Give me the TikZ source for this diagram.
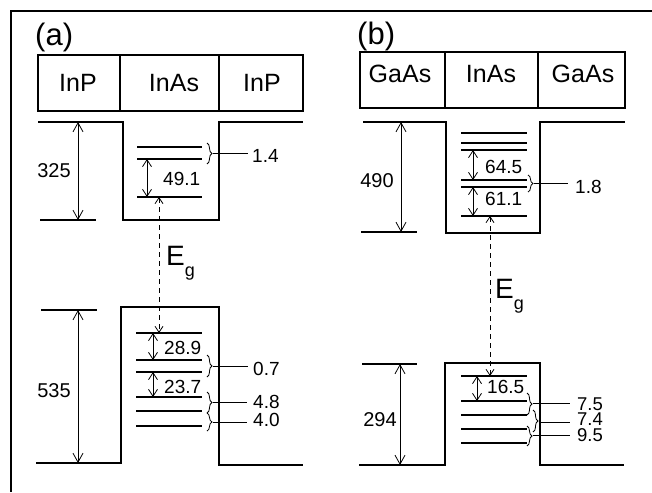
\documentclass[tikz,border=0pt]{standalone}
\usepackage{fontspec}
\setmainfont{Liberation Sans}
\usetikzlibrary{arrows.meta,decorations.pathreplacing}
\newcommand\myfs[1]{\fontsize{#1}{#1}\selectfont}
\begin{document}
\begin{tikzpicture}[x=1pt,y=-1pt,
  band/.style={line width=1.9pt},
  lev/.style={line width=1.9pt},
  dimarrow/.style={line width=0.8pt,{Straight Barb[length=9pt,width=10pt]}-{Straight Barb[length=9pt,width=10pt]}},
  sdim/.style={line width=0.8pt,{Straight Barb[length=7pt,width=9pt]}-{Straight Barb[length=7pt,width=9pt]}},
  egarrow/.style={line width=0.8pt,dash pattern=on 5pt off 4pt,{Straight Barb[length=6pt,width=8pt]}-{Straight Barb[length=6pt,width=8pt]}},
  brc/.style={decorate,decoration={brace,amplitude=5pt},line width=0.8pt},
  lead/.style={line width=0.8pt},
  num/.style={inner sep=0pt,font=\myfs{19}},
  snum/.style={inner sep=0pt,font=\myfs{18.5}},
  big/.style={inner sep=0pt,font=\myfs{20}},
  cell/.style={inner sep=0pt,font=\myfs{25}},
  panel/.style={inner sep=0pt,font=\myfs{31}},
  eglabel/.style={inner sep=0pt,font=\myfs{28}},
]
\useasboundingbox (0,0) rectangle (652,492);
% frame
\draw[line width=2pt] (652,11) -- (11,11) -- (11,492);

% ================= (a) =================
\node[panel,anchor=base west] (pa) at (35,46) {(a)};
\draw[band] (38,55) rectangle (303,111);
\draw[band] (120,55) -- (120,111);
\draw[band] (219,55) -- (219,111);
\node[cell,anchor=base] (a1) at (78,92) {InP};
\node[cell,anchor=base] (a2) at (174,92) {InAs};
\node[cell,anchor=base] (a3) at (262,92) {InP};

% conduction band (a)
\draw[band] (38,122) -- (123,122) -- (123,220) -- (219,220) -- (219,122) -- (303,122);
\draw[band] (40,220) -- (96,220);
\coordinate (ca1) at (78,122); \coordinate (ca2) at (78,220);
\draw[dimarrow] (ca1) -- (ca2);
\node[big,anchor=base] (n325) at (54,177) {325};
\foreach \y in {147,159,197} \draw[lev] (137,\y) -- (202,\y);
\draw[brc] (207,143) -- (207,164);
\coordinate (b14) at (213,153); \coordinate (b14e) at (248,153);
\draw[lead] (b14) -- (b14e);
\node[num,anchor=base west] (l14) at (252,162) {1.4};
\coordinate (e491a) at (147,159); \coordinate (e491b) at (147,197);
\draw[sdim] (e491a) -- (e491b);
\node[num,anchor=base west] (l491) at (163,185) {49.1};

% Eg (a)
\coordinate (ega1) at (159,197); \coordinate (ega2) at (159,333);
\draw[egarrow] (ega1) -- (ega2);
\node[eglabel,anchor=base west] (ega) at (166,265) {E\raisebox{-11pt}{\myfs{18}g}};

% valence band (a)
\draw[band] (41,310) -- (97,310);
\draw[band] (36,463) -- (121,463) -- (121,307) -- (219,307) -- (219,465) -- (303,465);
\coordinate (va1) at (78,310); \coordinate (va2) at (78,463);
\draw[dimarrow] (va1) -- (va2);
\node[big,anchor=base] (n535) at (54,397) {535};
\foreach \y in {333,360,372,397,411,426} \draw[lev] (136,\y) -- (202,\y);
\coordinate (e289a) at (153,333); \coordinate (e289b) at (153,360);
\draw[sdim] (e289a) -- (e289b);
\node[num,anchor=base west] (l289) at (164,354) {28.9};
\draw[brc] (207,355) -- (207,377);
\coordinate (b07) at (213,366); \coordinate (b07e) at (248,366);
\draw[lead] (b07) -- (b07e);
\node[num,anchor=base west] (l07) at (253,375) {0.7};
\coordinate (e237a) at (153,372); \coordinate (e237b) at (153,397);
\draw[sdim] (e237a) -- (e237b);
\node[num,anchor=base west] (l237) at (164,393) {23.7};
\draw[brc] (207,392) -- (207,413);
\coordinate (b48) at (213,402); \coordinate (b48e) at (247,402);
\draw[lead] (b48) -- (b48e);
\node[num,anchor=base west] (l48) at (253,408) {4.8};
\draw[brc] (207,413) -- (207,431);
\coordinate (b40) at (213,422); \coordinate (b40e) at (247,422);
\draw[lead] (b40) -- (b40e);
\node[num,anchor=base west] (l40) at (253,426) {4.0};

% ================= (b) =================
\node[panel,anchor=base west] (pb) at (357,45) {(b)};
\draw[band] (360,52) rectangle (625,108);
\draw[band] (445,52) -- (445,108);
\draw[band] (538,52) -- (538,108);
\node[cell,anchor=base] (b1) at (400,83) {GaAs};
\node[cell,anchor=base] (b2) at (491,83) {InAs};
\node[cell,anchor=base] (b3) at (583,83) {GaAs};

% conduction band (b)
\draw[band] (363,122) -- (446,122) -- (446,233) -- (540,233) -- (540,122) -- (625,122);
\draw[band] (361,232) -- (417,232);
\coordinate (cb1) at (401,122); \coordinate (cb2) at (401,232);
\draw[dimarrow] (cb1) -- (cb2);
\node[big,anchor=base] (n490) at (377,187) {490};
\foreach \y in {133,143,150,180,187,216} \draw[lev] (461,\y) -- (527,\y);
\coordinate (e645a) at (473,150); \coordinate (e645b) at (473,180);
\draw[sdim] (e645a) -- (e645b);
\node[num,anchor=base west] (l645) at (485,173) {64.5};
\draw[brc] (528,175) -- (528,192);
\coordinate (b18) at (534,183); \coordinate (b18e) at (568,183);
\draw[lead] (b18) -- (b18e);
\node[num,anchor=base west] (l18) at (575,193) {1.8};
\coordinate (e611a) at (473,187); \coordinate (e611b) at (473,216);
\draw[sdim] (e611a) -- (e611b);
\node[num,anchor=base west] (l611) at (485,205) {61.1};

% Eg (b)
\coordinate (egb1) at (490,216); \coordinate (egb2) at (490,376);
\draw[egarrow] (egb1) -- (egb2);
\node[eglabel,anchor=base west] (egb) at (495,298) {E\raisebox{-11pt}{\myfs{18}g}};

% valence band (b)
\draw[band] (362,364) -- (417,364);
\draw[band] (359,465) -- (445,465) -- (445,363) -- (540,363) -- (540,465) -- (624,465);
\coordinate (vb1) at (400,364); \coordinate (vb2) at (400,465);
\draw[dimarrow] (vb1) -- (vb2);
\node[big,anchor=base] (n294) at (380,426) {294};
\foreach \y in {376,401,415,429,443} \draw[lev] (461,\y) -- (527,\y);
\coordinate (e165a) at (477,376); \coordinate (e165b) at (477,401);
\draw[sdim] (e165a) -- (e165b);
\node[num,anchor=base west] (l165) at (487,393) {16.5};
\draw[brc] (527,393) -- (527,415);
\coordinate (b75) at (533,403); \coordinate (b75e) at (570,403);
\draw[lead] (b75) -- (b75e);
\node[snum,anchor=base west] (l75) at (577,410) {7.5};
\draw[brc] (533,410) -- (533,432);
\coordinate (b74) at (539,422); \coordinate (b74e) at (570,422);
\draw[lead] (b74) -- (b74e);
\node[snum,anchor=base west] (l74) at (577,425.5) {7.4};
\draw[brc] (527,426) -- (527,446);
\coordinate (b95) at (533,435); \coordinate (b95e) at (570,435);
\draw[lead] (b95) -- (b95e);
\node[snum,anchor=base west] (l95) at (577,441.5) {9.5};
\end{tikzpicture}
\end{document}
